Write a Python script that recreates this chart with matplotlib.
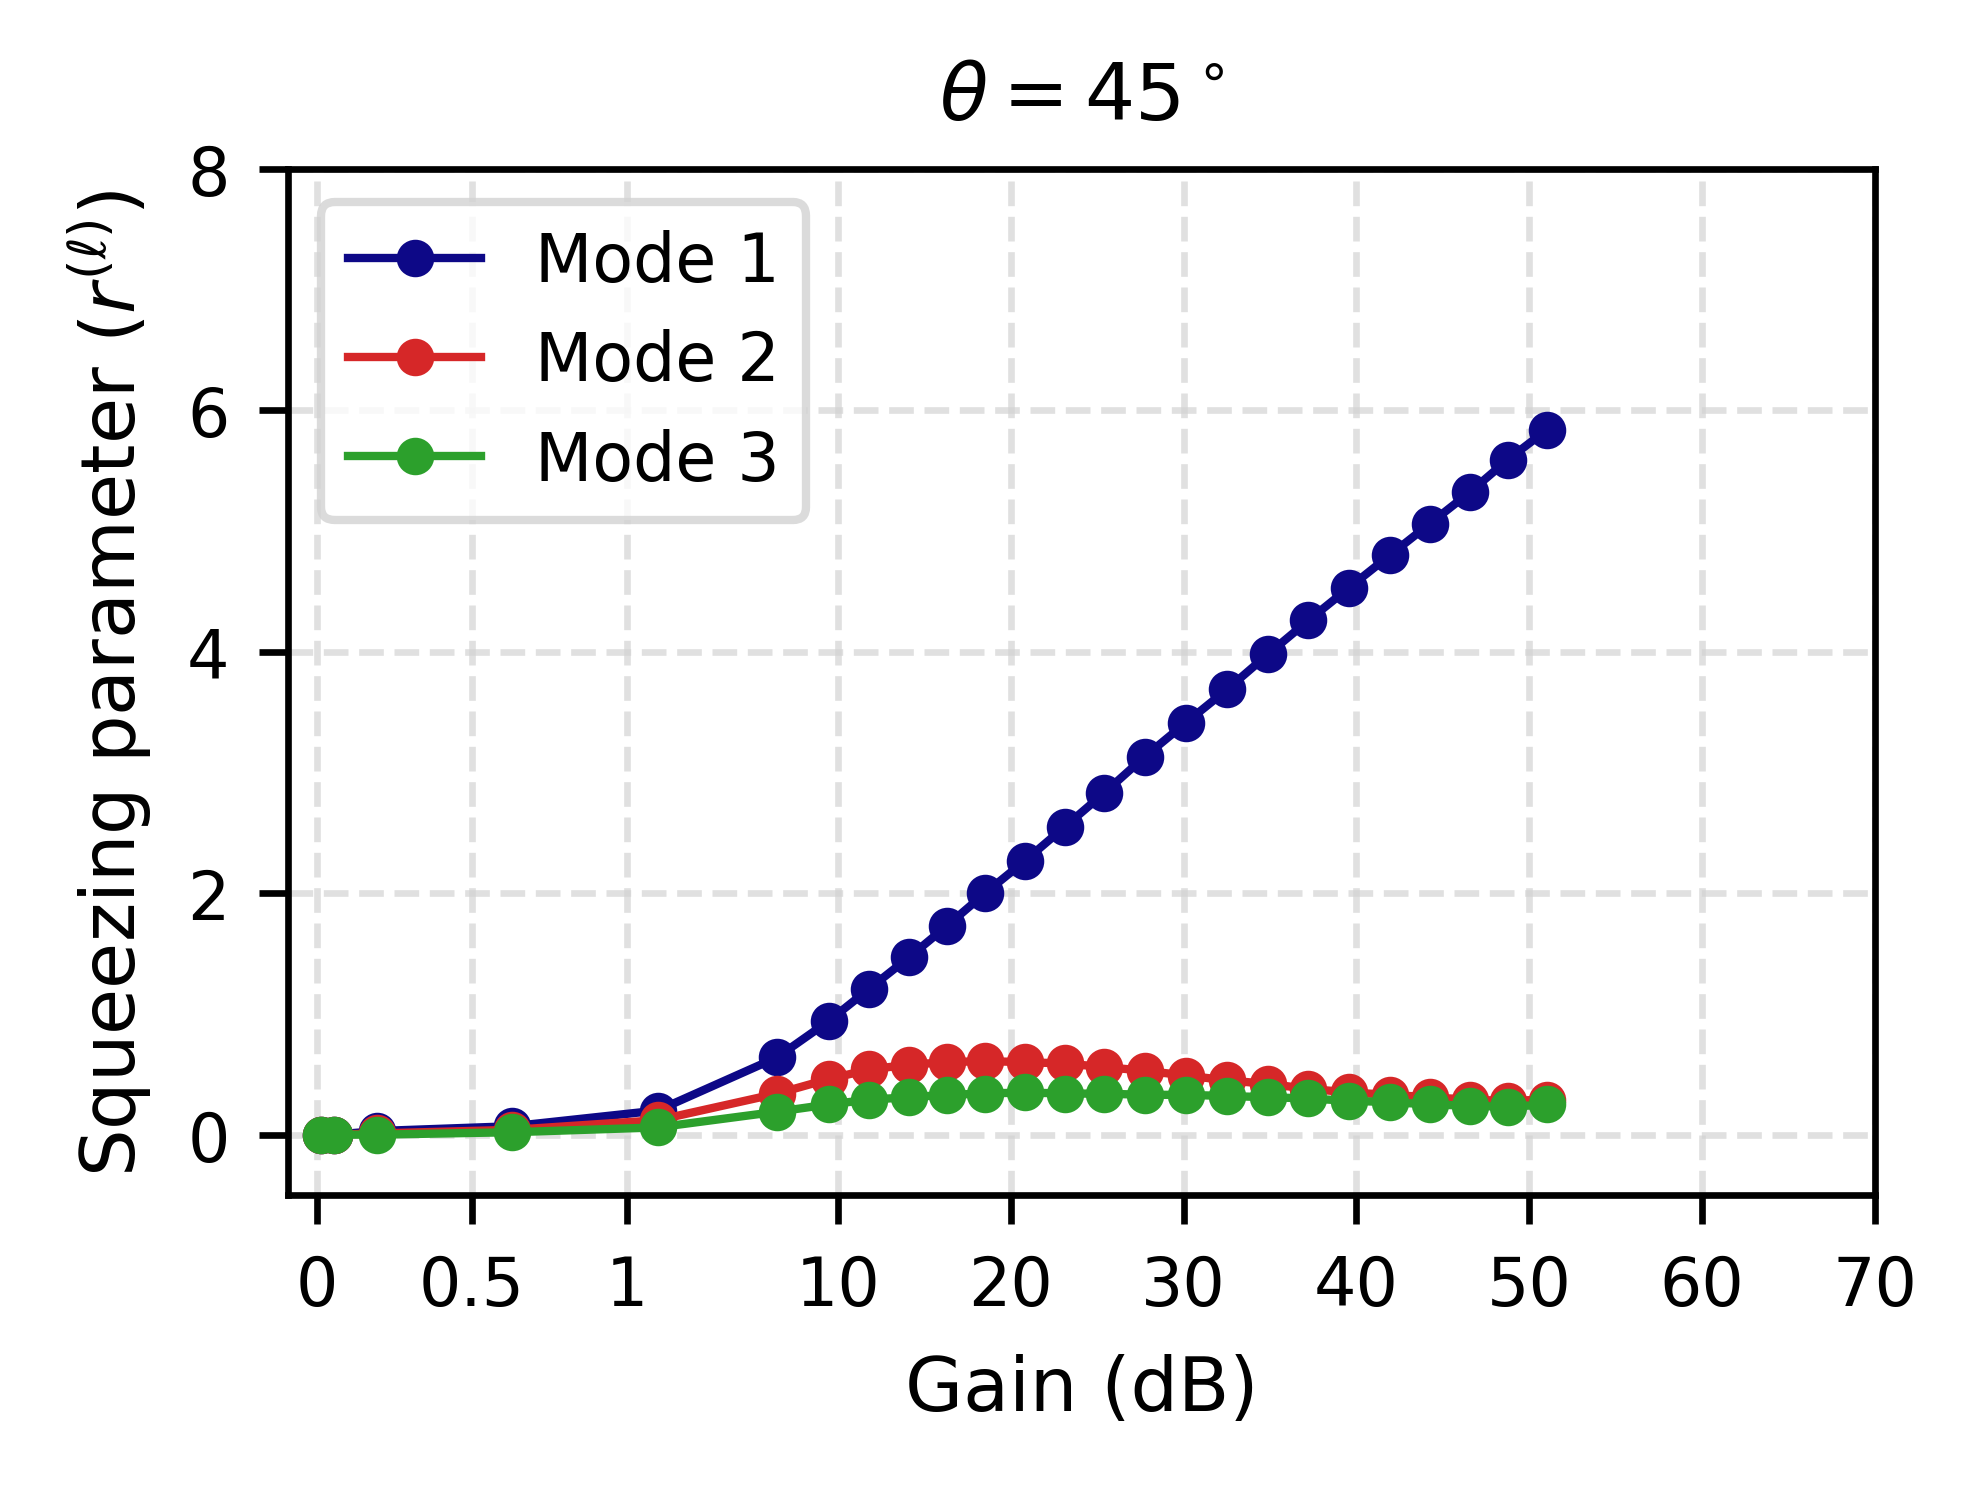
import numpy as np
import matplotlib
matplotlib.use('Agg')
import matplotlib.pyplot as plt

# gain (dB) values
gain = [0.014, 0.055, 0.195, 0.63, 2.3, 7.4, 9.6, 11.82, 14.12, 16.31, 18.51,
        20.83, 23.12, 25.4, 27.74, 30.11, 32.53, 34.88, 37.22, 39.56, 41.93,
        44.23, 46.54, 48.74, 51.02]
# squeezing parameter per mode
mode1 = [0.0, 0.0, 0.03, 0.07, 0.2, 0.64, 0.94, 1.21, 1.47, 1.73, 2.0,
         2.27, 2.55, 2.83, 3.13, 3.41, 3.69, 3.98, 4.26, 4.53, 4.80, 5.06,
         5.32, 5.59, 5.84]
mode2 = [0.0, 0.0, 0.01, 0.04, 0.12, 0.34, 0.46, 0.54, 0.58, 0.60, 0.61,
         0.60, 0.59, 0.56, 0.53, 0.49, 0.45, 0.42, 0.38, 0.35, 0.33, 0.31,
         0.29, 0.28, 0.29]
mode3 = [0.0, 0.0, 0.0, 0.02, 0.06, 0.19, 0.25, 0.29, 0.31, 0.33, 0.34,
         0.35, 0.34, 0.34, 0.33, 0.33, 0.32, 0.31, 0.30, 0.28, 0.27, 0.25,
         0.24, 0.23, 0.25]

xticks = [0, 0.5, 1, 10, 20, 30, 40, 50, 60, 70]
xticklabels = ['0', '0.5', '1', '10', '20', '30', '40', '50', '60', '70']

# piecewise linear axis: 0-1 stretched, 1-10 squeezed, 10-70 linear
xk = np.array([0.0, 1.0, 10.0, 70.0])
uk = np.array([0.0, 246.0, 413.0, 1235.0])

def fwd(x):
    x = np.asarray(x, dtype=float)
    lo = x * (uk[1] - uk[0]) / (xk[1] - xk[0])
    hi = uk[-1] + (x - xk[-1]) * (uk[-1] - uk[-2]) / (xk[-1] - xk[-2])
    return np.where(x < xk[0], lo, np.where(x > xk[-1], hi, np.interp(x, xk, uk)))

def inv(u):
    u = np.asarray(u, dtype=float)
    lo = u * (xk[1] - xk[0]) / (uk[1] - uk[0])
    hi = xk[-1] + (u - uk[-1]) * (xk[-1] - xk[-2]) / (uk[-1] - uk[-2])
    return np.where(u < uk[0], lo, np.where(u > uk[-1], hi, np.interp(u, uk, xk)))

fig = plt.figure(figsize=(1978 / 600, 1489 / 600), dpi=600)
ax = fig.add_axes([288 / 1978, 1 - 1196 / 1489, (1875 - 288) / 1978, (1196 - 170) / 1489])
ax.set_xscale('function', functions=(fwd, inv))

ax.plot(gain, mode1, '-o', color='#0d0887', lw=1.0, ms=3.5, label='Mode 1')
ax.plot(gain, mode2, '-o', color='#d62728', lw=1.0, ms=3.5, label='Mode 2')
ax.plot(gain, mode3, '-o', color='#2ca02c', lw=1.0, ms=3.5, label='Mode 3')

ax.set_xlim(-0.093, 70)
ax.set_ylim(-0.5, 8)
ax.set_xticks(xticks)
ax.set_xticklabels(xticklabels)
ax.set_yticks([0, 2, 4, 6, 8])
ax.tick_params(labelsize=8)
ax.grid(True, ls='--', color='lightgray', alpha=0.7, lw=0.8)

ax.set_xlabel('Gain (dB)', fontsize=9)
ax.set_ylabel(r'Squeezing parameter ($r^{(\ell)}$)', fontsize=9)
ax.set_title(r'$\theta = 45^\circ$', fontsize=9.5)
ax.legend(loc='upper left', fontsize=8, edgecolor='lightgray')

fig.savefig('out.png', dpi=600)
